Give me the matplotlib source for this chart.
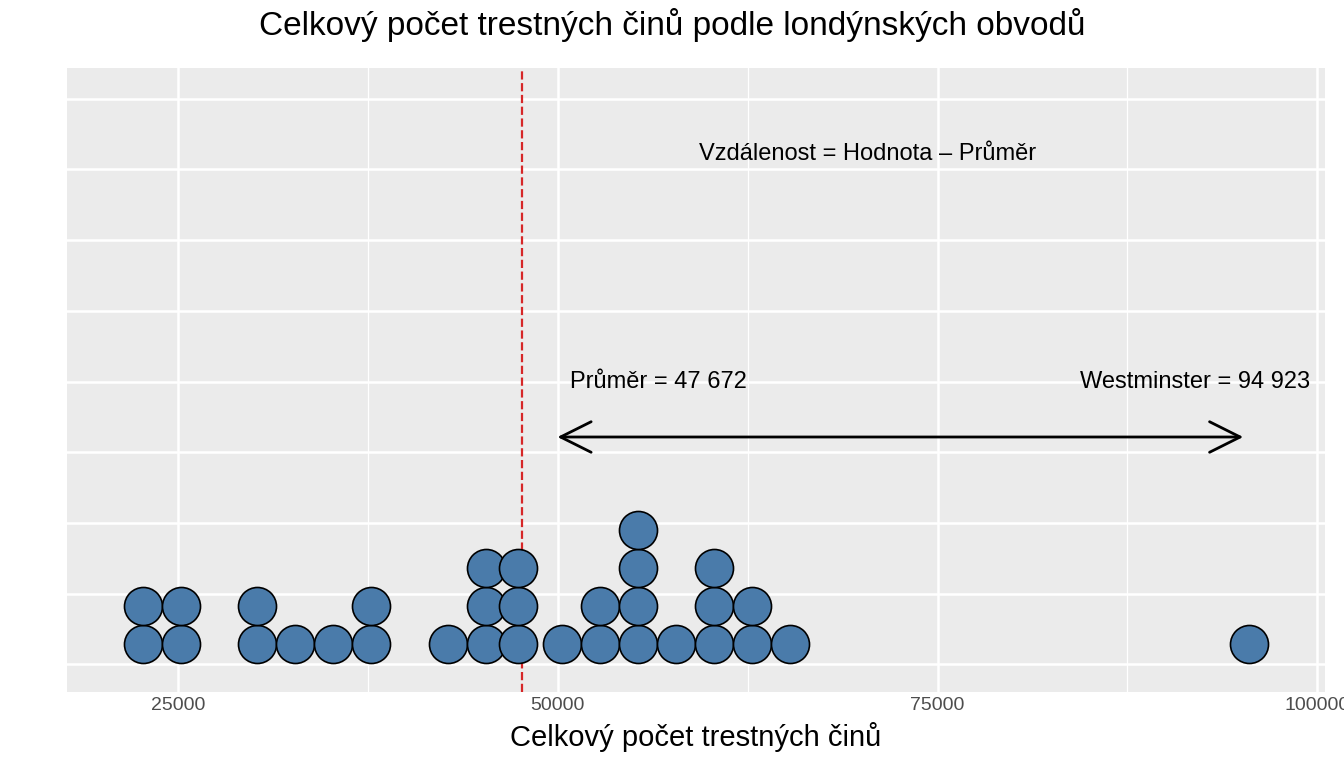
import matplotlib
matplotlib.use("Agg")
import matplotlib.pyplot as plt
import numpy as np
plt.rcParams['font.family'] = ['Liberation Sans', 'DejaVu Sans']

values = [22700,22700,25200,25200,30200,30200,32700,35200,37700,37700,42800,
          45300,45300,45300,47400,47400,47400,50300,52800,52800,
          55300,55300,55300,55300,57800,60300,60300,60300,62800,62800,65300,95500]
mean_val = 47672
west_val = 94923
xticks = [25000, 50000, 75000, 100000]

fig = plt.figure(figsize=(13.44, 7.84), dpi=100)
W, H = 1344, 784
ax = fig.add_axes([67/W, 1-692/H, (1325-67)/W, (692-68)/H])
ax.set_facecolor('#EBEBEB')
for s in ax.spines.values():
    s.set_visible(False)

bins = {}
xs, ys = [], []
for v in sorted(values):
    key = round(v / 2500)
    n = bins.get(key, 0)
    bins[key] = n + 1
    xs.append(v); ys.append(n)

ax.scatter(xs, ys, s=750, c='#4A7BAA', edgecolors='black', linewidths=1.2, zorder=3)
ax.axvline(mean_val, color='#D62728', ls='--', lw=1.6, zorder=2)
ax.annotate('', xy=(49800, 5.45), xytext=(95300, 5.45),
            arrowprops=dict(arrowstyle='<->,head_length=2.2,head_width=1.1', lw=2, color='black'))
ax.text(50800, 6.9, 'Průměr = 47 672', fontsize=17, va='center', ha='left')
ax.text(99500, 6.9, 'Westminster = 94 923', fontsize=17, va='center', ha='right')
ax.text(70400, 12.9, 'Vzdálenost = Hodnota – Průměr', fontsize=17, va='center', ha='center')

ax.set_xlim(17700, 100500)
ax.set_ylim(-1.26, 15.16)
yt = [-0.53 + 1.86*k for k in range(9)]
ax.set_yticks(yt)
ax.set_yticklabels([])
ax.set_xticks(xticks)
ax.set_xticklabels([str(t) for t in xticks], fontsize=14, color='#4D4D4D')
ax.set_xticks([37500, 62500, 87500], minor=True)
ax.grid(True, which='major', color='white', lw=1.8)
ax.grid(True, which='minor', axis='x', color='white', lw=0.9)
ax.tick_params(axis='both', which='both', length=0)
ax.set_axisbelow(True)
ax.set_xlabel('Celkový počet trestných činů', fontsize=21, labelpad=6)
fig.suptitle('Celkový počet trestných činů podle londýnských obvodů', fontsize=24, y=0.99)
fig.savefig('out.png', dpi=100)
